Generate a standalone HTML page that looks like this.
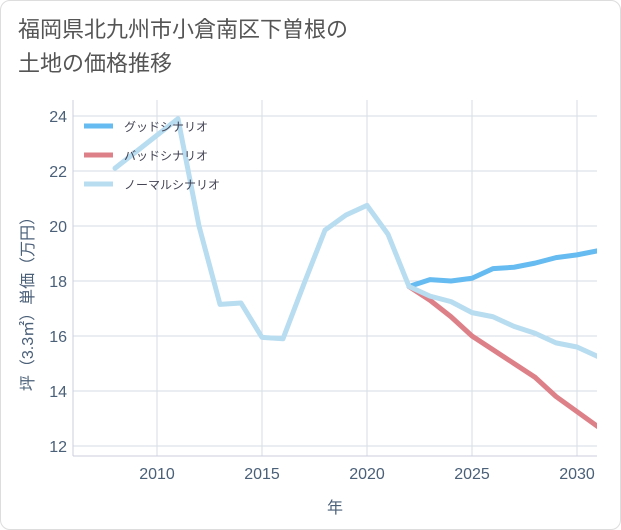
<!DOCTYPE html>
<html><head><meta charset="utf-8">
<style>
body{margin:0;background:#fff;}
.wrap{position:relative;width:621px;height:530px;font-family:"Liberation Sans","Noto Sans CJK JP",sans-serif;}
.frame{position:absolute;left:0;top:0;width:619px;height:528px;border:1px solid #ddd;border-radius:10px;}
.title{position:absolute;left:18px;top:13px;font-size:22px;line-height:34px;color:#555;}
</style></head>
<body>
<div class="wrap">
<div class="frame"></div>
<div class="title">福岡県北九州市小倉南区下曽根の<br>土地の価格推移</div>
<svg id="chart" width="621" height="530" style="position:absolute;left:0;top:0"></svg>
</div>
<script>
const years=[2008,2009,2010,2011,2012,2013,2014,2015,2016,2017,2018,2019,2020,2021,2022,2023,2024,2025,2026,2027,2028,2029,2030,2031];
const normal=[22.1,22.7,23.3,23.9,20.0,17.15,17.2,15.95,15.9,17.9,19.85,20.4,20.75,19.7,17.8,17.45,17.25,16.85,16.7,16.35,16.1,15.75,15.6,15.25];
const futYears=[2022,2023,2024,2025,2026,2027,2028,2029,2030,2031];
const good=[17.8,18.05,18.0,18.1,18.45,18.5,18.65,18.85,18.95,19.1];
const bad=[17.8,17.3,16.7,16.0,15.5,15.0,14.5,13.8,13.25,12.7];
const xTicks=[2010,2015,2020,2025,2030];
const yTicks=[12,14,16,18,20,22,24];
const legendLabels=["グッドシナリオ","バッドシナリオ","ノーマルシナリオ"];
const X0=73,X1=597,Y0=100,Y1=456;
const xs=y=>X0+(y-2006)*21;
const ys=v=>446-(v-12)*27.5;
const svg=document.getElementById('chart');
const NS='http://www.w3.org/2000/svg';
function mk(t,a){const e=document.createElementNS(NS,t);for(const k in a)e.setAttribute(k,a[k]);svg.appendChild(e);return e;}
const defs=mk('defs',{});
const clip=document.createElementNS(NS,'clipPath');clip.setAttribute('id','c');
const cr=document.createElementNS(NS,'rect');
cr.setAttribute('x',X0);cr.setAttribute('y',Y0);cr.setAttribute('width',X1-X0);cr.setAttribute('height',Y1-Y0);
clip.appendChild(cr);defs.appendChild(clip);
xTicks.forEach(t=>{
 const l=mk('line',{x1:xs(t),x2:xs(t),y1:Y0,y2:Y1,stroke:'#d5dde6','stroke-width':1});
 
 
 const tx=mk('text',{x:xs(t),y:479,'text-anchor':'middle','font-size':16,fill:'#4a5f78'});tx.textContent=t;
 
 
});
yTicks.forEach(t=>{
 const l=mk('line',{x1:X0,x2:X1,y1:ys(t),y2:ys(t),stroke:'#d5dde6','stroke-width':1});
 
 
 const tx=mk('text',{x:67,y:ys(t)+6,'text-anchor':'end','font-size':16,fill:'#4a5f78'});tx.textContent=t;
 
 
});
const ax=mk('line',{x1:X0,x2:X0,y1:Y0,y2:Y1,stroke:'#ccd','stroke-width':1});


const ax2=mk('line',{x1:X0,x2:X1,y1:Y1,y2:Y1,stroke:'#ccd','stroke-width':1});


const xt=mk('text',{x:335,y:513,'text-anchor':'middle','font-size':16,fill:'#4a5f78'});xt.textContent='年';


const yt=mk('text',{x:0,y:0,'text-anchor':'middle','font-size':16,fill:'#4a5f78',transform:'translate(33,300) rotate(-90)'});yt.textContent='坪（3.3㎡）単価（万円）';


function line(xv,yv,color,name){
 const p=mk('polyline',{points:xv.map((x,i)=>xs(x)+','+ys(yv[i])).join(' '),fill:'none',stroke:color,'stroke-width':5,'stroke-linejoin':'round','stroke-linecap':'round','clip-path':'url(#c)'});
 
 
}
line(futYears,good,'#66bbf0','good-scenario-line');
line(futYears,bad,'#dd8088','bad-scenario-line');
line(years,normal,'#b8dcf0','normal-scenario-line');
const cols=['#66bbf0','#dd8088','#b8dcf0'];
legendLabels.forEach((lab,i)=>{
 const y=126+i*29;
 const l=mk('line',{x1:84,x2:113,y1:y,y2:y,stroke:cols[i],'stroke-width':5});
 
 
 const t=mk('text',{x:124,y:y+5,'font-size':12,fill:'#445'});t.textContent=lab;
 
 
});
</script>
</body></html>
